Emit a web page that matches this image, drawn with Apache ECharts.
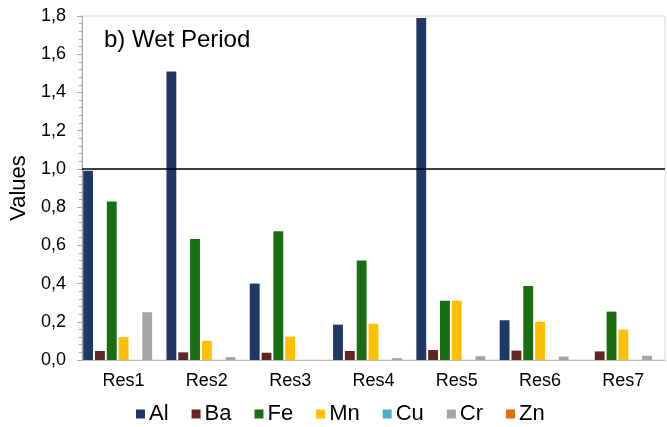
<!DOCTYPE html>
<html>
<head>
<meta charset="utf-8">
<script src="https://cdn.jsdelivr.net/npm/echarts@6/dist/echarts.min.js"></script>
<style>html,body{margin:0;padding:0;background:#fff}#c{width:667px;height:427px}</style>
</head>
<body>
<div id="c"></div>
<script>
const categories = ['Res1','Res2','Res3','Res4','Res5','Res6','Res7'];
const seriesNames = ['Al','Ba','Fe','Mn','Cu','Cr','Zn'];
const Al = [0.99, 1.51, 0.40, 0.185, 1.79, 0.208, null];
const Ba = [0.047, 0.040, 0.038, 0.047, 0.052, 0.049, 0.045];
const Fe = [0.83, 0.633, 0.674, 0.52, 0.31, 0.387, 0.253];
const Mn = [0.12, 0.10, 0.122, 0.19, 0.31, 0.20, 0.159];
const Cu = [null, null, null, null, null, null, null];
const Cr = [0.25, 0.015, null, 0.01, 0.02, 0.018, 0.022];
const Zn = [null, null, null, null, null, null, null];
const yTicks = { min: 0, max: 1.8, interval: 0.2 };
const thresholdValue = 1.0;
const titleText = 'b) Wet Period';
const yName = 'Values';

const colors = ['#1F3864','#632523','#1A6E12','#FFC000','#4BACC6','#A5A5A5','#E36C09'];
const dataArr = [Al, Ba, Fe, Mn, Cu, Cr, Zn];
const FONT = '"Liberation Sans", Arial, sans-serif';

const series = seriesNames.map((n, i) => ({
  name: n,
  type: 'bar',
  data: dataArr[i],
  barGap: '20%',
  barCategoryGap: '3%',
  itemStyle: { color: colors[i] }
}));
series[0].markLine = {
  silent: true,
  symbol: ['none','none'],
  label: { show: false },
  lineStyle: { color: '#000', width: 1.5, type: 'solid' },
  data: [{ yAxis: thresholdValue }]
};

const chart = echarts.init(document.getElementById('c'), null, { renderer: 'canvas' });
chart.setOption({
  animation: false,
  backgroundColor: '#fff',
  color: colors,
  title: {
    text: titleText, left: 99, top: 23,
    textStyle: { fontFamily: FONT, fontSize: 24, fontWeight: 'normal', color: '#000' }
  },
  legend: {
    data: seriesNames,
    left: 131, top: 398,
    itemWidth: 9, itemHeight: 9, itemGap: 23,
    icon: 'rect',
    textStyle: { fontFamily: FONT, fontSize: 22, color: '#000', padding: [0,0,0,-1] }
  },
  grid: {
    left: 78, right: 2, top: 16, bottom: 67,
    show: true, borderColor: '#D9D9D9', borderWidth: 1
  },
  xAxis: {
    type: 'category',
    data: categories,
    axisLine: { lineStyle: { color: '#BFBFBF', width: 1 } },
    axisTick: { show: false },
    axisLabel: { fontFamily: FONT, fontSize: 18, color: '#000', margin: 12 }
  },
  yAxis: {
    type: 'value',
    min: yTicks.min, max: yTicks.max, interval: yTicks.interval,
    name: yName, nameLocation: 'middle', nameGap: 49,
    nameTextStyle: { fontFamily: FONT, fontSize: 22, color: '#000' },
    axisLine: { show: true, lineStyle: { color: '#A6A6A6', width: 1 } },
    axisTick: { show: true, length: 5, lineStyle: { color: '#A6A6A6' } },
    minorTick: { show: true, splitNumber: 5, length: 3, lineStyle: { color: '#A6A6A6' } },
    splitLine: { show: false },
    axisLabel: {
      fontFamily: FONT, fontSize: 18, color: '#000', margin: 16,
      formatter: v => v.toFixed(1).replace('.', ',')
    }
  },
  series: series
});
</script>
</body>
</html>
